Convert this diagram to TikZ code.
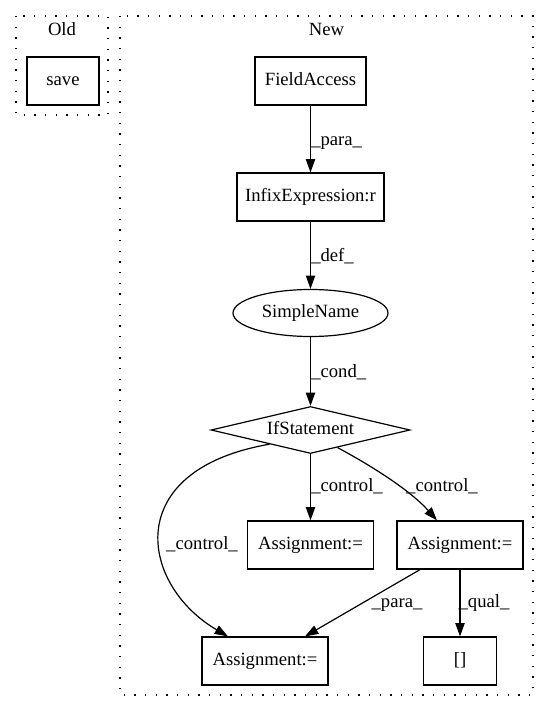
\documentclass[tikz,border=0pt]{standalone}
\usepackage{fontspec}
\setmainfont{Liberation Serif}
\usetikzlibrary{shapes.geometric,arrows.meta,calc}
\begin{document}
\begin{tikzpicture}[x=0.75pt,y=-0.75pt,
  every node/.style={font=\fontsize{14pt}{16pt}\selectfont, text height=9.5pt, text depth=2.8pt, inner sep=0pt},
  box/.style={draw, line width=0.9pt, rectangle, minimum height=36pt},
  conn/.style={draw, line width=0.9pt, -{Triangle[length=10pt,width=7pt]}},
  cluster/.style={draw, line width=1pt, dash pattern=on 1pt off 7pt}
]
\useasboundingbox (0,0) rectangle (549,712);
% clusters
\draw[cluster] (16,16) rectangle (108,115);
\draw[cluster] (120,16) rectangle (533,695);
\node (oldlbl) at (62,31) {Old};
\node (newlbl) at (326.5,31) {New};
% nodes
\node[box, minimum width=54pt] (save) at (63,81) {save};
\node[box, minimum width=83.25pt] (fa) at (310.5,81) {FieldAccess};
\node[box, minimum width=110.25pt] (infix) at (310.5,197) {InfixExpression:r};
\node[ellipse, draw, line width=0.9pt, minimum width=116.25pt, minimum height=35.25pt] (sn) at (310.5,313) {SimpleName};
\node[diamond, draw, line width=0.9pt, aspect=4, minimum width=149.25pt, minimum height=35.25pt] (if) at (310.5,430) {IfStatement};
\node[box, minimum width=94.5pt] (asgM) at (310.5,545) {Assignment:=};
\node[box, minimum width=94.5pt] (asgR) at (460,545) {Assignment:=};
\node[box, minimum width=94.5pt] (asgB) at (265,661) {Assignment:=};
\node[box, minimum width=54.75pt] (idx) at (460,661) {[]};
% edges
\draw[conn] (fa) -- (infix);
\draw[conn] (infix) -- (sn);
\draw[conn] (sn) -- (if);
\draw[conn] (if) -- (asgM);
\draw[conn] ($(if.south)!0.27!(if.east)$) .. controls (370,465) and (410,490) .. ($(asgR.north)+(-23,0)$);
\draw[conn] ($(if.south)!0.41!(if.west)$) .. controls (120,470) and (140,585) .. ($(asgB.north)+(-37,0)$);
\draw[conn] ($(asgR.south)+(-40,0)$) -- ($(asgB.north)+(40,0)$);
\draw[conn] (asgR) -- (idx);
% edge labels
\node[anchor=west] (l1) at (311,141) {\_para\_};
\node[anchor=west] (l2) at (311,257) {\_def\_};
\node[anchor=west] (l3) at (311,373) {\_cond\_};
\node[anchor=west] (l4) at (311,487) {\_control\_};
\node (l5) at (442,487) {\_control\_};
\node (l6) at (202,545) {\_control\_};
\node (l7) at (397,603) {\_para\_};
\node (l8) at (484,603) {\_qual\_};
\end{tikzpicture}
\end{document}
